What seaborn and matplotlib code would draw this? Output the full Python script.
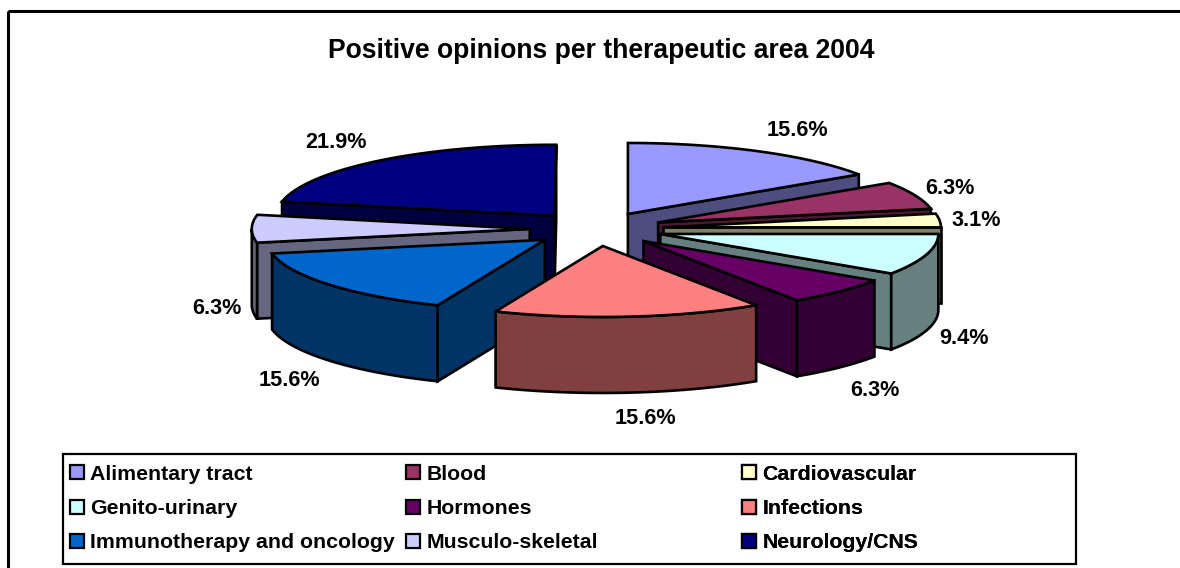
import numpy as np
import matplotlib
matplotlib.use("Agg")
import matplotlib.pyplot as plt
from matplotlib.patches import Patch, Rectangle
import seaborn as sns

# ---- data ----
categories = ["Alimentary tract", "Blood", "Cardiovascular", "Genito-urinary", "Hormones",
              "Infections", "Immunotherapy and oncology", "Musculo-skeletal", "Neurology/CNS"]
shares = [15.6, 6.3, 3.1, 9.4, 6.3, 15.6, 15.6, 6.3, 21.9]
slice_colors = ["#9999FF", "#993366", "#FFFFCC", "#CCFFFF", "#660066",
                "#FF8080", "#0066CC", "#CCCCFF", "#000080"]
title = "Positive opinions per therapeutic area 2004"

# ---- layout (pixels of the 1180x568 canvas) ----
CX, CY, RX, RY, DEPTH, EXPLODE = 596.5, 229.0, 278.0, 71.0, 76.0, 0.24
LABEL_XY = [(797, 130), (950, 188), (976, 220), (964, 339), (875, 390),
            (645, 418), (289, 380), (217, 308), (336, 142)]
FONT_TITLE = 19.1
FONT_LABEL = 15.6
FONT_LEGEND = 15.3
LW = 1.9

sns.set_theme(style="white")
plt.rcParams["font.family"] = ["Liberation Sans", "DejaVu Sans"]
plt.rcParams["font.weight"] = "bold"

palette = sns.color_palette(slice_colors)
shades = [tuple(c * 0.5 for c in col) for col in palette]

fig = plt.figure(figsize=(11.8, 5.68), dpi=100, facecolor="white")
ax = fig.add_axes([0, 0, 1, 1])
ax.set_xlim(0, 1180)
ax.set_ylim(568, 0)
ax.axis("off")

# chart frame: only its top and left edges fall inside the picture
ax.add_patch(Rectangle((8, 11), 1300, 700, fill=False, ec="black", lw=2.2, zorder=0))

ang = np.deg2rad(np.cumsum([0] + shares) * 3.6)


def rim(theta, ox, oy, dz=0.0):
    return ox + RX * np.sin(theta), oy - RY * np.cos(theta) + dz


style = dict(ec="black", lw=LW, joinstyle="miter")
mids = (ang[:-1] + ang[1:]) / 2
order = np.argsort(-np.cos(mids))
z = 1
for i in order:
    a0, a1 = ang[i], ang[i + 1]
    mid = mids[i]
    ox = CX + EXPLODE * RX * np.sin(mid)
    oy = CY - EXPLODE * RY * np.cos(mid)
    # flat walls along the cut edges, only where they face the viewer
    for a, show in ((a0, np.sin(a0) < 0), (a1, np.sin(a1) > 0)):
        if show:
            px, py = rim(a, ox, oy)
            ax.fill([ox, px, px, ox], [oy, py, py + DEPTH, oy + DEPTH],
                    fc=shades[i], zorder=z, **style)
    # curved outer wall on the near half
    lo, hi = max(a0, np.pi / 2), min(a1, 3 * np.pi / 2)
    if hi > lo:
        t = np.linspace(lo, hi, 80)
        x1, y1 = rim(t, ox, oy)
        x2, y2 = rim(t[::-1], ox, oy, DEPTH)
        ax.fill(np.r_[x1, x2], np.r_[y1, y2], fc=shades[i], zorder=z, **style)
    # top face
    t = np.linspace(a0, a1, 120)
    x, y = rim(t, ox, oy)
    ax.fill(np.r_[ox, x], np.r_[oy, y], fc=palette[i], zorder=z, **style)
    z += 1

for v, (lx, ly) in zip(shares, LABEL_XY):
    ax.text(lx, ly, f"{v:.1f}%", ha="center", va="center", fontsize=FONT_LABEL,
            fontweight="bold", color="black", zorder=50)

ax.text(601, 51, title, ha="center", va="center", fontsize=FONT_TITLE,
        fontweight="bold", color="black", zorder=50)

# legend: box + three equally spaced columns
ax.add_patch(Rectangle((63, 454), 1013, 110, fc="white", ec="black", lw=1.6, zorder=60))
columns = [[0, 3, 6], [1, 4, 7], [2, 5, 8]]
for col_x, idx in zip((64, 400, 736), columns):
    handles = [Patch(fc=palette[k], ec="black", lw=1.6) for k in idx]
    leg = ax.legend(handles, [categories[k] for k in idx], loc="upper left",
                    bbox_to_anchor=(col_x, 458.5), bbox_transform=ax.transData,
                    frameon=False, ncols=1, labelcolor="black",
                    handlelength=0.64, handleheight=0.64, handletextpad=0.3,
                    labelspacing=0.72, borderpad=0.3, borderaxespad=0,
                    prop=dict(family="Liberation Sans", weight="bold", size=FONT_LEGEND))
    leg.set_zorder(70)
    ax.add_artist(leg)

fig.savefig("out.png", dpi=100, facecolor="white")
